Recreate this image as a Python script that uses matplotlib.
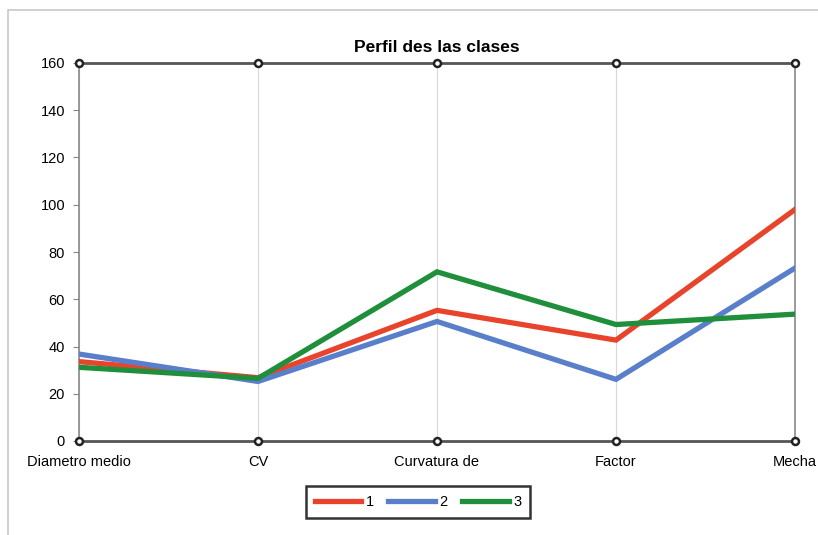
import matplotlib
matplotlib.use("Agg")
import matplotlib.pyplot as plt
from matplotlib.patches import Rectangle

categories = ["Diametro medio", "CV", "Curvatura de", "Factor", "Mecha"]
series_names = ["1", "2", "3"]
clase1 = [33.6, 26.8, 55.3, 42.7, 98.0]
clase2 = [36.8, 25.2, 50.6, 26.1, 73.2]
clase3 = [31.2, 26.5, 71.6, 49.3, 53.7]
yticks = [0, 20, 40, 60, 80, 100, 120, 140, 160]

plt.rcParams['font.family'] = ['Liberation Sans Narrow', 'Liberation Sans', 'DejaVu Sans']

fig = plt.figure(figsize=(8.18, 5.35), dpi=100)
fig.patch.set_facecolor('white')
W, H = 818, 535
ax = fig.add_axes([79 / W, 1 - 441 / H, (795 - 79) / W, (441 - 63) / H])

# outer chart border
fig.patches.append(Rectangle((8 / W, -0.01), 1.0, 1 - 10 / H + 0.01, transform=fig.transFigure,
                             fill=False, edgecolor='#c8c8c8', linewidth=1.2))

x = list(range(len(categories)))
colors = ['#e8442c', '#5a7fca', '#1f8f3c']
for vals, c, n in zip([clase1, clase2, clase3], colors, series_names):
    ax.plot(x, vals, color=c, linewidth=3.8, label=n, solid_joinstyle='miter', zorder=3)

ax.set_xlim(0, len(categories) - 1)
ax.set_ylim(0, 160)
ax.set_yticks(yticks)
ax.set_xticks(x)
ax.set_xticklabels(categories, fontsize=10.5)
for lab in ax.get_yticklabels():
    lab.set_fontsize(10.5)
ax.tick_params(axis='y', length=4, color='#888888', pad=6)
ax.tick_params(axis='x', length=0, pad=10)
ax.xaxis.grid(True, color='#d8d8d8', linewidth=0.8)
ax.set_axisbelow(True)

for side in ['left', 'right']:
    ax.spines[side].set_color('#8a8a8a')
    ax.spines[side].set_linewidth(1.2)
for side in ['top', 'bottom']:
    ax.spines[side].set_color('#555555')
    ax.spines[side].set_linewidth(2.0)

for yv in [0, 160]:
    ax.plot(x, [yv] * len(x), linestyle='none', marker='o', markersize=5,
            markerfacecolor='white', markeredgecolor='#222222', markeredgewidth=1.8,
            clip_on=False, zorder=5)

ax.set_title("Perfil des las clases", fontsize=12.5, fontweight='bold', pad=8)

leg = ax.legend(loc='center', bbox_to_anchor=(418 / W, 1 - 502 / H), bbox_transform=fig.transFigure,
                ncol=3, frameon=True, fancybox=False, fontsize=10.5, handlelength=3.2,
                columnspacing=1.0, handletextpad=0.3, borderpad=0.6)
leg.get_frame().set_edgecolor('black')
leg.get_frame().set_linewidth(1.8)

fig.savefig("out.png", dpi=100)
